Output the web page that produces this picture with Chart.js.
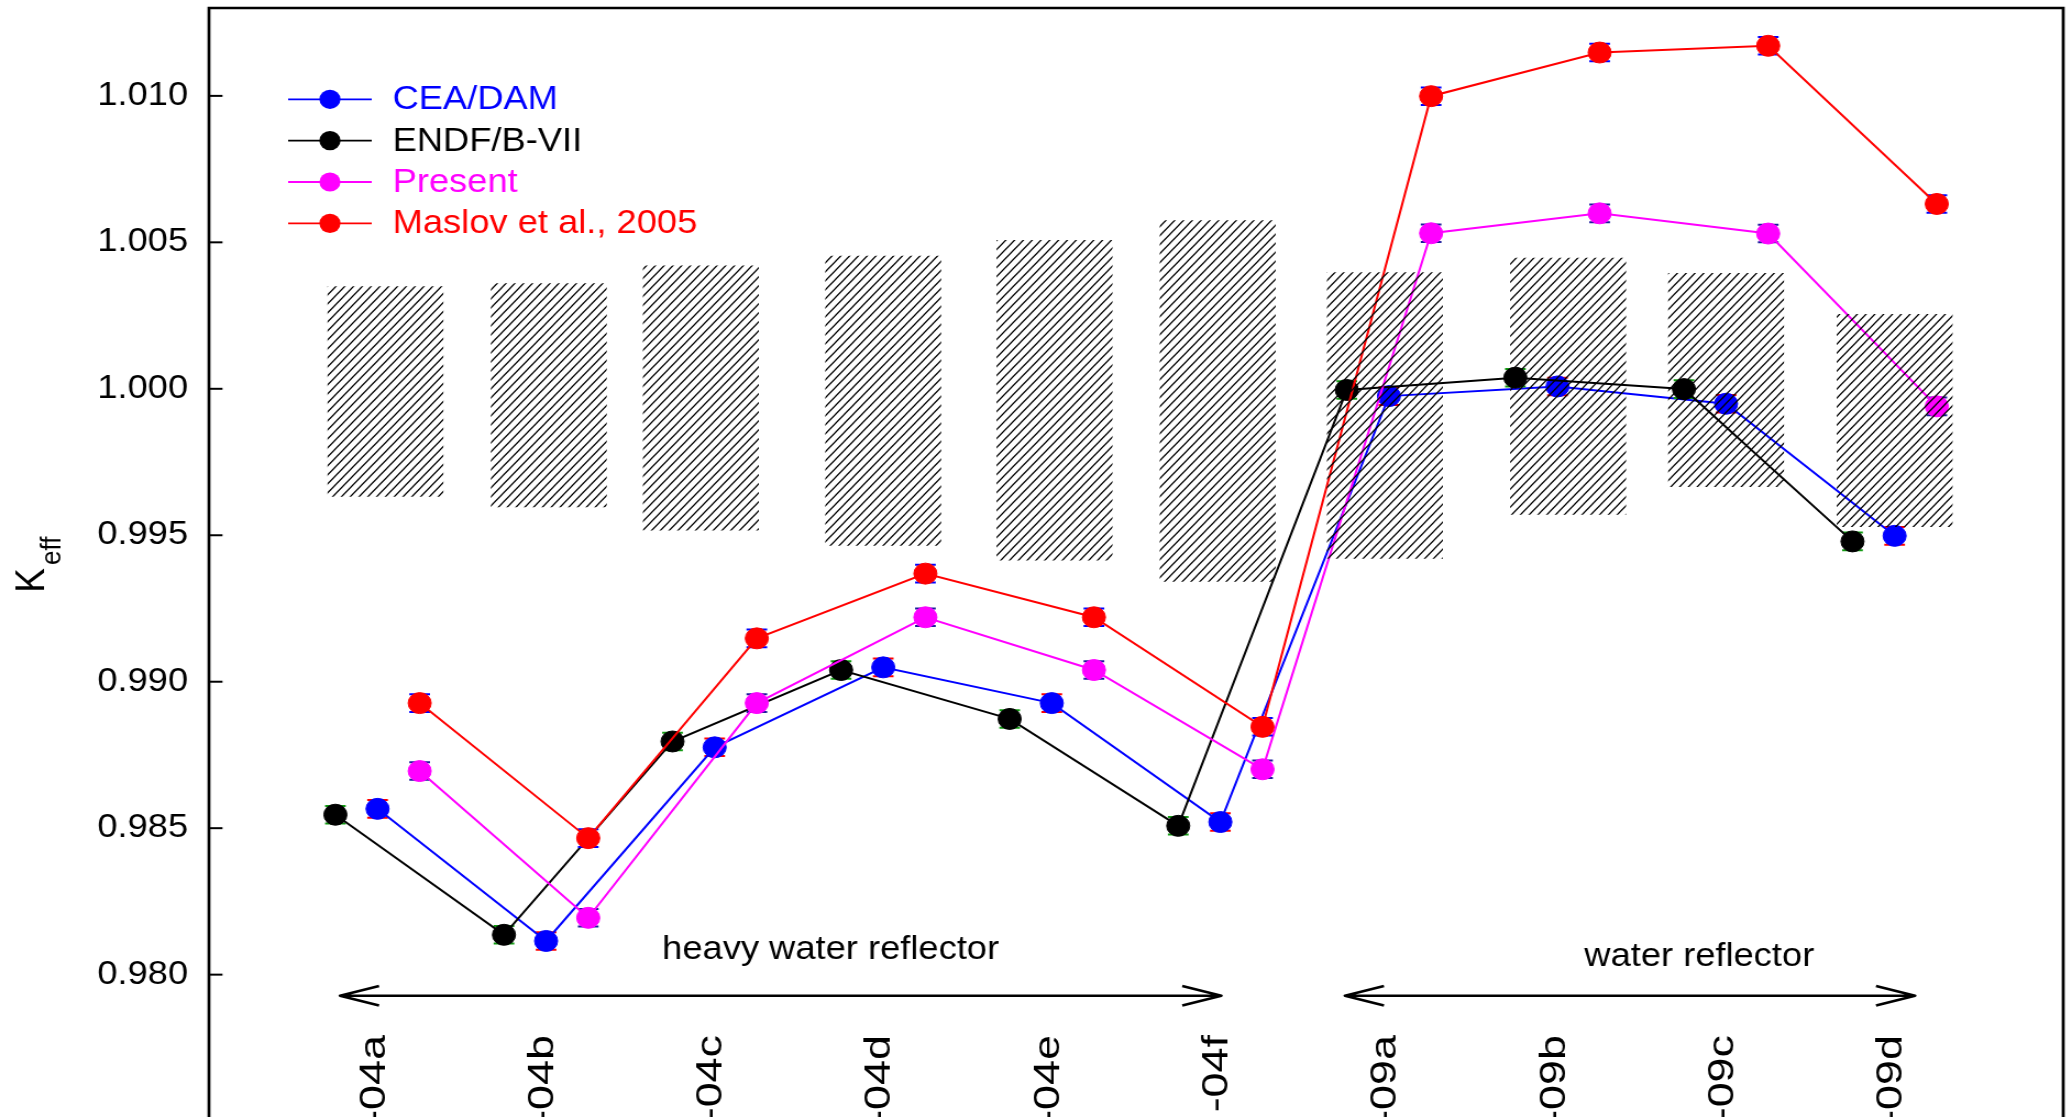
<!DOCTYPE html>
<html>
<head>
<meta charset="utf-8">
<script src="https://cdn.jsdelivr.net/npm/chart.js@4.4.1/dist/chart.umd.min.js"></script>
<style>
  html, body { margin: 0; padding: 0; background: #fff; overflow: hidden; }
  #wrap { width: 2072px; height: 1117px; overflow: hidden; }
</style>
</head>
<body>
<div id="wrap">
  <!-- drawn at 1884 px wide and shown at 2072 px: the plot uses a slightly wide aspect -->
  <canvas id="keff" width="1884" height="1117" style="display:block;width:2072px;height:1117px"></canvas>
</div>
<script>
// Benchmark configurations (labels along the bottom of the frame)
const categories = ['-04a', '-04b', '-04c', '-04d', '-04e', '-04f', '-09a', '-09b', '-09c', '-09d'];

// Calculated k-eff for each evaluation
const ceaDam  = [0.98566, 0.98115, 0.98776, 0.99049, 0.98927, 0.98521, 0.99975, 1.00008, 0.99949, 0.99498];
const endfB7  = [0.98546, 0.98136, 0.98796, 0.99040, 0.98873, 0.98508, 0.99996, 1.00038, 0.99999, 0.99479];
const present = [0.98695, 0.98194, 0.98927, 0.99220, 0.99040, 0.98701, 1.00531, 1.00599, 1.00530, 0.99940];
const maslov  = [0.98927, 0.98466, 0.99148, 0.99369, 0.99220, 0.98846, 1.00999, 1.01148, 1.01171, 1.00631];

// Statistical uncertainty of each calculation
const ceaDamErr  = [0.0003, 0.0003, 0.0003, 0.0003, 0.0003, 0.0003, 0.0003, 0.0003, 0.0003, 0.0003];
const endfB7Err  = [0.0003, 0.0003, 0.0003, 0.0003, 0.0003, 0.0003, 0.0003, 0.0003, 0.0003, 0.0003];
const presentErr = [0.0003, 0.0003, 0.0003, 0.0003, 0.0003, 0.0003, 0.0003, 0.0003, 0.0003, 0.0003];
const maslovErr  = [0.0003, 0.0003, 0.0003, 0.0003, 0.0003, 0.0003, 0.0003, 0.0003, 0.0003, 0.0003];

// Experimental benchmark band: position on the configuration axis, lower / upper limit
const benchPos  = [0.047, 1.016, 1.918, 3.0, 4.016, 4.984, 5.976, 7.063, 8.0, 9.0];
const benchLow  = [0.99633, 0.99597, 0.99517, 0.99465, 0.99415, 0.99342, 0.99421, 0.99571, 0.99666, 0.99529];
const benchHigh = [1.00349, 1.00359, 1.00420, 1.00453, 1.00507, 1.00574, 1.00397, 1.00446, 1.00394, 1.00254];

const seriesNames = ['CEA/DAM', 'ENDF/B-VII', 'Present', 'Maslov et al., 2005'];
const regionNames = ['heavy water reflector', 'water reflector'];

// Axis range and tick steps
const yMin = 0.97514, yMax = 1.013;
const yMinorStep = 0.001, yMajorStep = 0.005;

// ---------------------------------------------------------------------------
const FONT = '"Liberation Sans", Arial, Helvetica, sans-serif';

const canvas = document.getElementById('keff');
const ctx0 = canvas.getContext('2d');

function hatchPattern(ctx) {
  const w = 8, h = 9;
  const c = document.createElement('canvas');
  c.width = w; c.height = h;
  const g = c.getContext('2d');
  g.strokeStyle = '#000';
  g.lineWidth = 1.25;
  g.beginPath();
  for (let n = -1; n <= 1; n++) {
    g.moveTo(-w, 2 * h + n * h);
    g.lineTo(2 * w, -h + n * h);
  }
  g.stroke();
  return ctx.createPattern(c, 'repeat');
}

function points(values, shift) {
  return values.map((v, i) => ({ x: i + shift, y: v }));
}

function lineSet(label, values, errs, shift, color, capColor, order) {
  return {
    type: 'line',
    label,
    data: points(values, shift),
    err: errs,
    capColor,
    borderColor: color,
    backgroundColor: color,
    borderWidth: 2,
    pointRadius: 10.5,
    pointHoverRadius: 10.5,
    pointBackgroundColor: color,
    pointBorderColor: color,
    pointBorderWidth: 1,
    tension: 0,
    fill: false,
    order
  };
}

const datasets = [
  lineSet(seriesNames[0], ceaDam,  ceaDamErr,  0,     '#0000ff', '#ff0000', 4),
  lineSet(seriesNames[1], endfB7,  endfB7Err,  -0.25, '#000000', '#139a13', 3),
  lineSet(seriesNames[2], present, presentErr, 0.25,  '#ff00ff', '#1c1c9c', 2),
  lineSet(seriesNames[3], maslov,  maslovErr,  0.25,  '#ff0000', '#0000ff', 1),
  {
    type: 'bar',
    label: 'benchmark',
    data: benchPos.map((p, i) => ({ x: p, y: [benchLow[i], benchHigh[i]] })),
    backgroundColor: hatchPattern(ctx0),
    borderWidth: 0,
    barThickness: 104.7,
    grouped: false,
    order: 0
  }
];

function isStep(v, step) {
  const k = v / step;
  return Math.abs(k - Math.round(k)) < 1e-6;
}

function drawArrow(ctx, x1, x2, yy) {
  const ax = 35.5, ay = 9.7;
  ctx.beginPath();
  ctx.moveTo(x1, yy); ctx.lineTo(x2, yy);
  ctx.moveTo(x1 + ax, yy - ay); ctx.lineTo(x1, yy); ctx.lineTo(x1 + ax, yy + ay);
  ctx.moveTo(x2 - ax, yy - ay); ctx.lineTo(x2, yy); ctx.lineTo(x2 - ax, yy + ay);
  ctx.stroke();
}

const decorations = {
  id: 'decorations',
  // error bars sit underneath each marker set
  beforeDatasetDraw(chart, args) {
    const ds = chart.data.datasets[args.index];
    if (!ds.capColor) return;
    const { ctx } = chart;
    const ys = chart.scales.y;
    const half = 9.4;
    ctx.save();
    ctx.strokeStyle = ds.capColor;
    ctx.lineWidth = 2;
    args.meta.data.forEach((pt, i) => {
      const v = ds.data[i].y, e = ds.err[i];
      const y1 = ys.getPixelForValue(v + e), y2 = ys.getPixelForValue(v - e);
      ctx.beginPath();
      ctx.moveTo(pt.x, y1); ctx.lineTo(pt.x, y2);
      ctx.moveTo(pt.x - half, y1); ctx.lineTo(pt.x + half, y1);
      ctx.moveTo(pt.x - half, y2); ctx.lineTo(pt.x + half, y2);
      ctx.stroke();
    });
    ctx.restore();
  },
  afterDraw(chart) {
    const { ctx, chartArea: a } = chart;
    const xs = chart.scales.x, ys = chart.scales.y;
    ctx.save();

    // frame (the lower edge runs past the bottom of the canvas)
    ctx.strokeStyle = '#000';
    ctx.lineWidth = 2.7;
    ctx.beginPath();
    ctx.moveTo(a.left, a.bottom + 10);
    ctx.lineTo(a.left, a.top);
    ctx.lineTo(a.right, a.top);
    ctx.lineTo(a.right, a.bottom + 10);
    ctx.stroke();

    // inward tick marks on the K-eff axis
    ctx.lineWidth = 2;
    ys.ticks.forEach(t => {
      if (!isStep(t.value, yMinorStep)) return;
      const major = isStep(t.value, yMajorStep);
      const py = ys.getPixelForValue(t.value);
      ctx.beginPath();
      ctx.moveTo(a.left, py);
      ctx.lineTo(a.left + (major ? 12.3 : 8.3), py);
      ctx.stroke();
    });

    // axis title K_eff
    ctx.save();
    ctx.fillStyle = '#000';
    ctx.translate(40, 592.7);
    ctx.rotate(-Math.PI / 2);
    ctx.textAlign = 'left';
    ctx.textBaseline = 'alphabetic';
    ctx.font = '37px ' + FONT;
    ctx.fillText('K', 0, 0);
    const kw = ctx.measureText('K').width;
    ctx.font = '26px ' + FONT;
    ctx.fillText('eff', kw + 3, 14.6);
    ctx.restore();

    // legend
    ctx.font = '33px ' + FONT;
    ctx.textAlign = 'left';
    ctx.textBaseline = 'middle';
    let row = 0;
    chart.data.datasets.forEach(ds => {
      if (ds.type !== 'line') return;
      const ly = 99.3 + row * 41.35;
      ctx.strokeStyle = ds.borderColor;
      ctx.fillStyle = ds.borderColor;
      ctx.lineWidth = 1.8;
      ctx.beginPath(); ctx.moveTo(262, ly); ctx.lineTo(338, ly); ctx.stroke();
      ctx.beginPath(); ctx.arc(300, ly, 9.6, 0, Math.PI * 2); ctx.fill();
      ctx.fillText(ds.label, 357, ly + 1);
      row++;
    });

    // reflector regions: caption and double arrow
    const regions = [
      { text: regionNames[0], tx: 2.688, ty: 0.98052, from: -0.2225, to: 5.0056, ay: 0.97928 },
      { text: regionNames[1], tx: 7.841, ty: 0.98028, from: 5.739,   to: 9.121,  ay: 0.97928 }
    ];
    ctx.fillStyle = '#000';
    ctx.strokeStyle = '#000';
    ctx.textAlign = 'center';
    ctx.textBaseline = 'alphabetic';
    ctx.lineWidth = 2.7;
    ctx.lineJoin = 'round';
    regions.forEach(r => {
      ctx.fillText(r.text, xs.getPixelForValue(r.tx), ys.getPixelForValue(r.ty));
      drawArrow(ctx, xs.getPixelForValue(r.from), xs.getPixelForValue(r.to), ys.getPixelForValue(r.ay));
    });

    // configuration labels, written upward inside the frame with wide glyphs
    ctx.font = '34px ' + FONT;
    ctx.textAlign = 'right';
    ctx.textBaseline = 'alphabetic';
    categories.forEach((c, i) => {
      const px = xs.getPixelForValue(i);
      ctx.save();
      ctx.translate(px + 6.4, 1035);
      ctx.rotate(-Math.PI / 2);
      ctx.scale(1.32, 1);
      ctx.fillText(c, 0, 0);
      ctx.restore();
    });

    ctx.restore();
  }
};

new Chart(canvas, {
  type: 'line',
  data: { datasets },
  options: {
    responsive: false,
    devicePixelRatio: 1,
    animation: false,
    events: [],
    layout: { autoPadding: false, padding: { top: 8, right: 8, bottom: 0, left: 0 } },
    scales: {
      x: {
        type: 'linear',
        min: -1,
        max: 10,
        offset: false,
        display: false,
        ticks: { stepSize: 1 }
      },
      y: {
        type: 'linear',
        position: 'left',
        min: yMin,
        max: yMax,
        afterFit(scale) {
          scale.width = 190;
          scale.paddingTop = 0;
          scale.paddingBottom = 0;
        },
        border: { display: false },
        grid: { display: false, drawTicks: false },
        ticks: {
          stepSize: yMinorStep,
          autoSkip: false,
          padding: 19,
          color: '#000',
          font: { family: FONT, size: 33 },
          callback: v => (isStep(v, yMajorStep) ? v.toFixed(3) : null)
        }
      }
    },
    plugins: {
      legend: { display: false },
      tooltip: { enabled: false },
      title: { display: false }
    }
  },
  plugins: [decorations]
});
</script>
</body>
</html>
